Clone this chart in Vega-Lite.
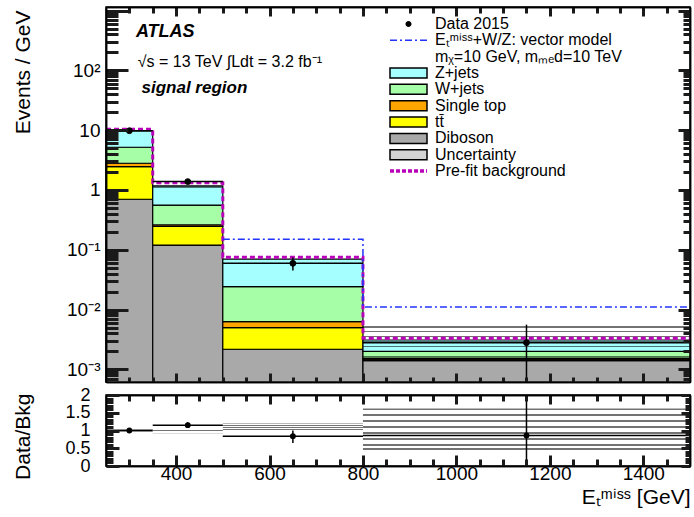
{
  "$schema": "https://vega.github.io/schema/vega-lite/v6.json",
  "autosize": "none",
  "padding": {"left": 106, "top": 7, "right": 588, "bottom": 510},
  "config": {
    "font": "Liberation Sans",
    "view": {"stroke": "black", "strokeWidth": 1.5},
    "axis": {"labelColor": "black", "titleColor": "black", "domainColor": "black", "domainWidth": 1.5, "grid": false, "labelFontSize": 19, "titleFontSize": 21, "titleFontWeight": "normal", "labelOverlap": false, "labelFlush": false}
  },
  "datasets": {
    "stack": [
      {"lo": 250, "hi": 350, "process": "Diboson", "order": 1, "value": 0.70},
      {"lo": 250, "hi": 350, "process": "tt̄", "order": 2, "value": 1.75},
      {"lo": 250, "hi": 350, "process": "Single top", "order": 3, "value": 0.35},
      {"lo": 250, "hi": 350, "process": "W+jets", "order": 4, "value": 2.38},
      {"lo": 250, "hi": 350, "process": "Z+jets", "order": 5, "value": 4.52},
      {"lo": 350, "hi": 500, "process": "Diboson", "order": 1, "value": 0.12},
      {"lo": 350, "hi": 500, "process": "tt̄", "order": 2, "value": 0.125},
      {"lo": 350, "hi": 500, "process": "Single top", "order": 3, "value": 0.015},
      {"lo": 350, "hi": 500, "process": "W+jets", "order": 4, "value": 0.30},
      {"lo": 350, "hi": 500, "process": "Z+jets", "order": 5, "value": 0.61},
      {"lo": 500, "hi": 800, "process": "Diboson", "order": 1, "value": 0.00217},
      {"lo": 500, "hi": 800, "process": "tt̄", "order": 2, "value": 0.00281},
      {"lo": 500, "hi": 800, "process": "Single top", "order": 3, "value": 0.0013},
      {"lo": 500, "hi": 800, "process": "W+jets", "order": 4, "value": 0.0179},
      {"lo": 500, "hi": 800, "process": "Z+jets", "order": 5, "value": 0.0458},
      {"lo": 800, "hi": 1500, "process": "Diboson", "order": 1, "value": 0.0014},
      {"lo": 800, "hi": 1500, "process": "tt̄", "order": 2, "value": 0.00008},
      {"lo": 800, "hi": 1500, "process": "Single top", "order": 3, "value": 0.00007},
      {"lo": 800, "hi": 1500, "process": "W+jets", "order": 4, "value": 0.00045},
      {"lo": 800, "hi": 1500, "process": "Z+jets", "order": 5, "value": 0.0011}
    ],
    "band": [
      {"lo": 250, "hi": 350, "down": 9.4, "up": 10.0},
      {"lo": 350, "hi": 500, "down": 1.08, "up": 1.25},
      {"lo": 500, "hi": 800, "down": 0.060, "up": 0.079},
      {"lo": 800, "hi": 1500, "down": 0.0014, "up": 0.0053}
    ],
    "prefit": [
      {"edge": 250, "value": 10.4},
      {"edge": 350, "value": 1.32},
      {"edge": 500, "value": 0.075},
      {"edge": 800, "value": 0.0033},
      {"edge": 1500, "value": 0.0033}
    ],
    "signal": [
      {"edge": 500, "value": 0.15},
      {"edge": 800, "value": 0.011},
      {"edge": 1500, "value": 0.011}
    ],
    "data": [
      {"lo": 250, "hi": 350, "x": 300, "y": 9.8, "ylo": 9.5, "yhi": 10.1},
      {"lo": 350, "hi": 500, "x": 425, "y": 1.38, "ylo": 1.29, "yhi": 1.48},
      {"lo": 500, "hi": 800, "x": 650, "y": 0.0594, "ylo": 0.045, "yhi": 0.074},
      {"lo": 800, "hi": 1500, "x": 1150, "y": 0.0028, "ylo": 0.0004, "yhi": 0.0056}
    ],
    "ratio": [
      {"lo": 250, "hi": 350, "x": 300, "r": 1.0, "rlo": 0.97, "rhi": 1.03},
      {"lo": 350, "hi": 500, "x": 425, "r": 1.15, "rlo": 1.07, "rhi": 1.23},
      {"lo": 500, "hi": 800, "x": 650, "r": 0.84, "rlo": 0.65, "rhi": 1.0},
      {"lo": 800, "hi": 1500, "x": 1150, "r": 0.86, "rlo": 0.0, "rhi": 2.0}
    ],
    "ratioband": [
      {"lo": 250, "hi": 350, "down": 0.97, "up": 1.03},
      {"lo": 350, "hi": 500, "down": 0.92, "up": 1.07},
      {"lo": 500, "hi": 800, "down": 0.83, "up": 1.2},
      {"lo": 800, "hi": 1500, "down": 0.45, "up": 1.62}
    ]
  },
  "vconcat": [
    {
      "width": 584,
      "height": 375,
      "layer": [
        {
          "data": {"name": "stack"},
          "transform": [{"stack": "value", "groupby": ["lo"], "sort": [{"field": "order"}], "as": ["v0", "v1"]}],
          "mark": {"type": "rect", "stroke": "black", "strokeWidth": 1.2},
          "encoding": {
            "x": {"field": "lo", "type": "quantitative", "scale": {"domain": [250, 1500], "nice": false, "zero": false},
              "axis": {"orient": "bottom", "zindex": 1, "ticks": true, "tickColor": "#1a1a1a", "tickWidth": 3, "tickSize": -9,
                "values": [400,600,800,1000,1200,1400], "labels": false, "title": null}},
            "x2": {"field": "hi"},
            "y": {"field": "v0", "type": "quantitative", "scale": {"type": "log", "domain": [0.000615, 1148], "nice": false, "clamp": true},
              "axis": {"orient": "left", "zindex": 1, "ticks": true, "tickColor": "#1a1a1a", "tickWidth": 3, "tickSize": -22,
                "values": [0.001,0.01,0.1,1,10,100,1000],
                "labelExpr": "datum.value == 0.001 ? '10⁻³' : datum.value == 0.01 ? '10⁻²' : datum.value == 0.1 ? '10⁻¹' : datum.value == 1 ? '1' : datum.value == 10 ? '10' : datum.value == 100 ? '10²' : ''",
                "labelPadding": 28, "labelBaseline": "middle",
                "title": "Events / GeV", "titleX": -83, "titleY": 3, "titleAlign": "right", "titleAngle": -90, "titleBaseline": "middle", "titleAnchor": "end"}},
            "y2": {"field": "v1"},
            "fill": {"field": "process", "type": "nominal",
              "scale": {"domain": ["Z+jets", "W+jets", "Single top", "tt̄", "Diboson", "Uncertainty"],
                "range": ["#a6ffff", "#a6ffa6", "#ffa500", "#ffff00", "#a9a9a9", "#d4d4d4"]},
              "legend": {
                "orient": "none", "legendX": 281, "legendY": 58, "title": null, "padding": 0,
                "symbolType": "M-1,-1H6.4V1H-1Z", "symbolSize": 100, "symbolStrokeColor": "black", "symbolStrokeWidth": 1.5,
                "labelOffset": 32, "labelFontSize": 16, "labelColor": "black", "labelLimit": 400, "rowPadding": 0.35}}
          }
        },
        {
          "data": {"name": "band"},
          "mark": {"type": "rect", "fill": {"gradient": "linear", "x1": 0, "y1": 0, "x2": 0, "y2": 1, "stops": [
            {"offset": 0, "color": "rgba(0,0,0,0.55)"}, {"offset": 0.043, "color": "rgba(0,0,0,0.55)"}, {"offset": 0.043, "color": "rgba(255,255,255,0)"}, {"offset": 0.143, "color": "rgba(255,255,255,0)"},
            {"offset": 0.143, "color": "rgba(0,0,0,0.55)"}, {"offset": 0.186, "color": "rgba(0,0,0,0.55)"}, {"offset": 0.186, "color": "rgba(255,255,255,0)"}, {"offset": 0.286, "color": "rgba(255,255,255,0)"},
            {"offset": 0.286, "color": "rgba(0,0,0,0.55)"}, {"offset": 0.329, "color": "rgba(0,0,0,0.55)"}, {"offset": 0.329, "color": "rgba(255,255,255,0)"}, {"offset": 0.429, "color": "rgba(255,255,255,0)"},
            {"offset": 0.429, "color": "rgba(0,0,0,0.55)"}, {"offset": 0.471, "color": "rgba(0,0,0,0.55)"}, {"offset": 0.471, "color": "rgba(255,255,255,0)"}, {"offset": 0.571, "color": "rgba(255,255,255,0)"},
            {"offset": 0.571, "color": "rgba(0,0,0,0.55)"}, {"offset": 0.614, "color": "rgba(0,0,0,0.55)"}, {"offset": 0.614, "color": "rgba(255,255,255,0)"}, {"offset": 0.714, "color": "rgba(255,255,255,0)"},
            {"offset": 0.714, "color": "rgba(0,0,0,0.55)"}, {"offset": 0.757, "color": "rgba(0,0,0,0.55)"}, {"offset": 0.757, "color": "rgba(255,255,255,0)"}, {"offset": 0.857, "color": "rgba(255,255,255,0)"},
            {"offset": 0.857, "color": "rgba(0,0,0,0.55)"}, {"offset": 0.9, "color": "rgba(0,0,0,0.55)"}, {"offset": 0.9, "color": "rgba(255,255,255,0)"}, {"offset": 0.96, "color": "rgba(255,255,255,0)"},
            {"offset": 0.96, "color": "rgba(0,0,0,0.55)"}, {"offset": 1, "color": "rgba(0,0,0,0.55)"}]}},
          "encoding": {
            "x": {"field": "lo", "type": "quantitative", "axis": null},
            "x2": {"field": "hi"},
            "y": {"field": "down", "type": "quantitative", "axis": null},
            "y2": {"field": "up"}
          }
        },
        {
          "data": {"name": "prefit"},
          "mark": {"type": "line", "interpolate": "step-after", "strokeWidth": 3, "strokeDash": [5, 3]},
          "encoding": {
            "x": {"field": "edge", "type": "quantitative",
              "axis": {"orient": "top", "zindex": 1, "ticks": true, "tickColor": "#1a1a1a", "tickWidth": 3, "tickSize": -9,
                "values": [400,600,800,1000,1200,1400], "labels": false, "title": null}},
            "y": {"field": "value", "type": "quantitative",
              "axis": {"orient": "right", "zindex": 1, "ticks": true, "tickColor": "#1a1a1a", "tickWidth": 3, "tickSize": -12,
                "values": [0.001,0.01,0.1,1,10,100,1000], "labels": false, "title": null}},
            "stroke": {"datum": "Pre-fit background", "type": "nominal", "scale": {"domain": ["Pre-fit background"], "range": ["#bb00bb"]},
              "legend": {"orient": "none", "legendX": 281, "legendY": 156, "title": null, "padding": 0,
                "symbolType": "M-1,0H6.4", "symbolSize": 100, "symbolStrokeWidth": 3.5, "symbolDash": [4, 2],
                "labelOffset": 32, "labelFontSize": 16, "labelColor": "black", "labelLimit": 400}}
          }
        },
        {
          "data": {"name": "signal"},
          "mark": {"type": "line", "interpolate": "step-after", "stroke": "#2233ff", "strokeWidth": 1.5},
          "encoding": {
            "x": {"field": "edge", "type": "quantitative",
              "axis": {"orient": "top", "zindex": 1, "ticks": true, "tickColor": "#1a1a1a", "tickWidth": 3, "tickSize": -6,
                "values": [300,350,450,500,550,650,700,750,850,900,950,1050,1100,1150,1250,1300,1350,1450], "labels": false, "title": null}},
            "y": {"field": "value", "type": "quantitative",
              "axis": {"orient": "right", "zindex": 1, "ticks": true, "tickColor": "#1a1a1a", "tickWidth": 3, "tickSize": -7,
                "values": [0.0007,0.0008,0.0009,0.002,0.003,0.004,0.005,0.006,0.007,0.008,0.009,0.02,0.03,0.04,0.05,0.06,0.07,0.08,0.09,0.2,0.3,0.4,0.5,0.6,0.7,0.8,0.9,2,3,4,5,6,7,8,9,20,30,40,50,60,70,80,90,200,300,400,500,600,700,800,900], "labels": false, "title": null}},
            "strokeDash": {"datum": "Eₜᵐⁱˢˢ+W/Z: vector model", "type": "nominal",
              "scale": {"domain": ["Eₜᵐⁱˢˢ+W/Z: vector model", "mᵪ=10 GeV, mₘₑd=10 TeV"], "range": [[7, 3, 2, 3], [0, 1000]]},
              "legend": {"orient": "none", "legendX": 281, "legendY": 25.35, "title": null, "padding": 0,
                "symbolType": "M-1,0H6.4", "symbolSize": 100, "symbolStrokeColor": "#2233ff", "symbolStrokeWidth": 1.5,
                "labelOffset": 32, "labelFontSize": 16, "labelColor": "black", "labelLimit": 400, "rowPadding": 0.35}}
          }
        },
        {
          "data": {"name": "data"},
          "mark": {"type": "rule", "stroke": "black", "strokeWidth": 1.5},
          "encoding": {
            "x": {"field": "lo", "type": "quantitative",
              "axis": {"orient": "bottom", "zindex": 1, "ticks": true, "tickColor": "#1a1a1a", "tickWidth": 3, "tickSize": -5,
                "values": [300,350,450,500,550,650,700,750,850,900,950,1050,1100,1150,1250,1300,1350,1450], "labels": false, "title": null}},
            "x2": {"field": "hi"},
            "y": {"field": "y", "type": "quantitative",
              "axis": {"orient": "left", "zindex": 1, "ticks": true, "tickColor": "#1a1a1a", "tickWidth": 3, "tickSize": -12,
                "values": [0.0007,0.0008,0.0009,0.002,0.003,0.004,0.005,0.006,0.007,0.008,0.009,0.02,0.03,0.04,0.05,0.06,0.07,0.08,0.09,0.2,0.3,0.4,0.5,0.6,0.7,0.8,0.9,2,3,4,5,6,7,8,9,20,30,40,50,60,70,80,90,200,300,400,500,600,700,800,900], "labels": false, "title": null}}
          }
        },
        {
          "data": {"name": "data"},
          "mark": {"type": "rule", "stroke": "black", "strokeWidth": 1.5},
          "encoding": {
            "x": {"field": "x", "type": "quantitative", "axis": null},
            "y": {"field": "ylo", "type": "quantitative", "axis": null},
            "y2": {"field": "yhi"}
          }
        },
        {
          "data": {"name": "data"},
          "mark": {"type": "circle", "fill": "black", "stroke": "black", "strokeWidth": 1, "opacity": 1, "size": 34},
          "encoding": {
            "x": {"field": "x", "type": "quantitative", "axis": null},
            "y": {"field": "y", "type": "quantitative", "axis": null},
            "opacity": {"datum": "Data 2015", "type": "nominal", "scale": {"domain": ["Data 2015"], "range": [1]},
              "legend": {"orient": "none", "legendX": 281, "legendY": 9, "title": null, "padding": 0,
                "symbolType": "M-1,0H6.4M2.1,0A0.6,0.6,0,1,1,3.3,0A0.6,0.6,0,1,1,2.1,0Z", "symbolSize": 100, "symbolFillColor": "black", "symbolStrokeColor": "black", "symbolStrokeWidth": 1.5,
                "labelOffset": 32, "labelFontSize": 16, "labelColor": "black", "labelLimit": 400}}
          }
        },
        {
          "data": {"values": [{}]},
          "mark": {"type": "text", "text": "ATLAS", "fontSize": 18, "fontWeight": "bold", "fontStyle": "italic", "align": "left", "baseline": "middle", "color": "black"},
          "encoding": {
            "x": {"datum": 314, "type": "quantitative", "axis": null},
            "y": {"datum": 443, "type": "quantitative", "axis": null}
          }
        },
        {
          "data": {"values": [{}]},
          "mark": {"type": "text", "text": "√s = 13 TeV  ∫Ldt = 3.2 fb⁻¹", "fontSize": 16, "align": "left", "baseline": "middle", "color": "black"},
          "encoding": {
            "x": {"datum": 318, "type": "quantitative", "axis": null},
            "y": {"datum": 140, "type": "quantitative", "axis": null}
          }
        },
        {
          "data": {"values": [{}]},
          "mark": {"type": "text", "text": "signal region", "fontSize": 17, "fontWeight": "bold", "fontStyle": "italic", "align": "left", "baseline": "middle", "color": "black"},
          "encoding": {
            "x": {"datum": 326, "type": "quantitative", "axis": null},
            "y": {"datum": 50, "type": "quantitative", "axis": null}
          }
        }
      ]
    },
    {
      "width": 584,
      "height": 71,
      "layer": [
        {
          "data": {"name": "ratioband"},
          "mark": {"type": "rect", "fill": {"gradient": "linear", "x1": 0, "y1": 0, "x2": 0, "y2": 1, "stops": [
            {"offset": 0, "color": "rgba(0,0,0,0.55)"}, {"offset": 0.043, "color": "rgba(0,0,0,0.55)"}, {"offset": 0.043, "color": "rgba(255,255,255,0)"}, {"offset": 0.143, "color": "rgba(255,255,255,0)"},
            {"offset": 0.143, "color": "rgba(0,0,0,0.55)"}, {"offset": 0.186, "color": "rgba(0,0,0,0.55)"}, {"offset": 0.186, "color": "rgba(255,255,255,0)"}, {"offset": 0.286, "color": "rgba(255,255,255,0)"},
            {"offset": 0.286, "color": "rgba(0,0,0,0.55)"}, {"offset": 0.329, "color": "rgba(0,0,0,0.55)"}, {"offset": 0.329, "color": "rgba(255,255,255,0)"}, {"offset": 0.429, "color": "rgba(255,255,255,0)"},
            {"offset": 0.429, "color": "rgba(0,0,0,0.55)"}, {"offset": 0.471, "color": "rgba(0,0,0,0.55)"}, {"offset": 0.471, "color": "rgba(255,255,255,0)"}, {"offset": 0.571, "color": "rgba(255,255,255,0)"},
            {"offset": 0.571, "color": "rgba(0,0,0,0.55)"}, {"offset": 0.614, "color": "rgba(0,0,0,0.55)"}, {"offset": 0.614, "color": "rgba(255,255,255,0)"}, {"offset": 0.714, "color": "rgba(255,255,255,0)"},
            {"offset": 0.714, "color": "rgba(0,0,0,0.55)"}, {"offset": 0.757, "color": "rgba(0,0,0,0.55)"}, {"offset": 0.757, "color": "rgba(255,255,255,0)"}, {"offset": 0.857, "color": "rgba(255,255,255,0)"},
            {"offset": 0.857, "color": "rgba(0,0,0,0.55)"}, {"offset": 0.9, "color": "rgba(0,0,0,0.55)"}, {"offset": 0.9, "color": "rgba(255,255,255,0)"}, {"offset": 0.96, "color": "rgba(255,255,255,0)"},
            {"offset": 0.96, "color": "rgba(0,0,0,0.55)"}, {"offset": 1, "color": "rgba(0,0,0,0.55)"}]}},
          "encoding": {
            "x": {"field": "lo", "type": "quantitative", "scale": {"domain": [250, 1500], "nice": false, "zero": false},
              "axis": {"orient": "bottom", "zindex": 1, "ticks": true, "tickColor": "#1a1a1a", "tickWidth": 3, "tickSize": -11,
                "values": [400,600,800,1000,1200,1400], "format": "d", "labelPadding": 9, "labelBaseline": "top",
                "title": "Eₜᵐⁱˢˢ [GeV]", "titleX": 584, "titleY": 31, "titleAlign": "right", "titleAnchor": "end", "titleBaseline": "middle"}},
            "x2": {"field": "hi"},
            "y": {"field": "down", "type": "quantitative", "scale": {"domain": [0, 2], "nice": false, "zero": false, "clamp": true},
              "axis": {"orient": "left", "zindex": 1, "ticks": true, "tickColor": "#1a1a1a", "tickWidth": 3, "tickSize": -13,
                "values": [0,0.5,1,1.5,2],
                "labelExpr": "datum.value == 0 ? '0' : datum.value == 0.5 ? '0.5' : datum.value == 1 ? '1' : datum.value == 1.5 ? '1.5' : '2'",
                "labelPadding": 29, "labelBaseline": "middle", "labelFontSize": 18,
                "title": "Data/Bkg", "titleX": -83, "titleY": -2, "titleAlign": "right", "titleAngle": -90, "titleBaseline": "middle", "titleAnchor": "end"}},
            "y2": {"field": "up"}
          }
        },
        {
          "data": {"name": "ratio"},
          "mark": {"type": "rule", "stroke": "black", "strokeWidth": 1.5},
          "encoding": {
            "x": {"field": "lo", "type": "quantitative",
              "axis": {"orient": "top", "zindex": 1, "ticks": true, "tickColor": "#1a1a1a", "tickWidth": 3, "tickSize": -9,
                "values": [400,600,800,1000,1200,1400], "labels": false, "title": null}},
            "x2": {"field": "hi"},
            "y": {"field": "r", "type": "quantitative",
              "axis": {"orient": "right", "zindex": 1, "ticks": true, "tickColor": "#1a1a1a", "tickWidth": 3, "tickSize": -9,
                "values": [0,0.5,1,1.5,2], "labels": false, "title": null}}
          }
        },
        {
          "data": {"name": "ratio"},
          "mark": {"type": "rule", "stroke": "black", "strokeWidth": 1.5},
          "encoding": {
            "x": {"field": "x", "type": "quantitative",
              "axis": {"orient": "top", "zindex": 1, "ticks": true, "tickColor": "#1a1a1a", "tickWidth": 3, "tickSize": -6,
                "values": [300,350,450,500,550,650,700,750,850,900,950,1050,1100,1150,1250,1300,1350,1450], "labels": false, "title": null}},
            "y": {"field": "rlo", "type": "quantitative",
              "axis": {"orient": "right", "zindex": 1, "ticks": true, "tickColor": "#1a1a1a", "tickWidth": 3, "tickSize": -5,
                "values": [0.1,0.2,0.3,0.4,0.6,0.7,0.8,0.9,1.1,1.2,1.3,1.4,1.6,1.7,1.8,1.9], "labels": false, "title": null}},
            "y2": {"field": "rhi"}
          }
        },
        {
          "data": {"name": "ratio"},
          "mark": {"type": "circle", "color": "black", "opacity": 1, "size": 34},
          "encoding": {
            "x": {"field": "x", "type": "quantitative",
              "axis": {"orient": "bottom", "zindex": 1, "ticks": true, "tickColor": "#1a1a1a", "tickWidth": 3, "tickSize": -7,
                "values": [300,350,450,500,550,650,700,750,850,900,950,1050,1100,1150,1250,1300,1350,1450], "labels": false, "title": null}},
            "y": {"field": "r", "type": "quantitative",
              "axis": {"orient": "left", "zindex": 1, "ticks": true, "tickColor": "#1a1a1a", "tickWidth": 3, "tickSize": -7,
                "values": [0.1,0.2,0.3,0.4,0.6,0.7,0.8,0.9,1.1,1.2,1.3,1.4,1.6,1.7,1.8,1.9], "labels": false, "title": null}}
          }
        }
      ]
    }
  ],
  "spacing": 13,
  "bounds": "flush"
}
